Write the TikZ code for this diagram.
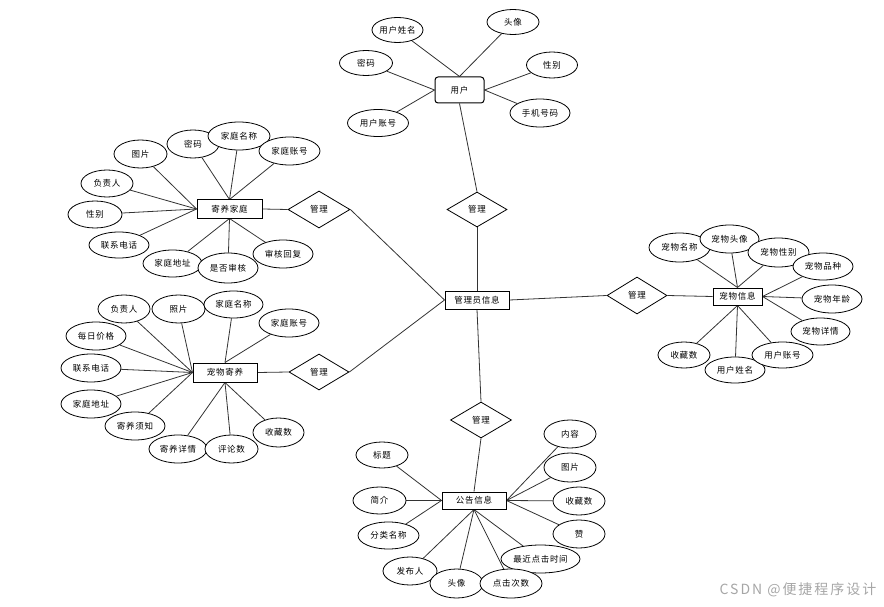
\documentclass[tikz,border=0pt]{standalone}
\usepackage{fontspec}
\newfontfamily\cjk[LetterSpace=8]{Noto Sans CJK SC}
\newfontfamily\wmfont[LetterSpace=14]{Noto Sans CJK SC}
\usetikzlibrary{shapes.geometric,backgrounds}
\tikzset{
  lbl/.style={font=\cjk\fontsize{8.5}{10}\selectfont, text=black},
  attr/.style={lbl, ellipse, draw=black, line width=0.8pt, fill=white, inner sep=0pt},
  ent/.style={lbl, rectangle, draw=black, line width=1pt, fill=white, inner sep=0pt},
  rel/.style={lbl, diamond, draw=black, line width=0.8pt, fill=white, inner sep=0pt, aspect=1.7},
  conn/.style={draw=black!80, line width=0.8pt},
  sz/.style n args={2}{minimum width=#1pt, minimum height=#2pt}
}
\begin{document}
\begin{tikzpicture}[x=1pt,y=-1pt]
\useasboundingbox (0,0) rectangle (884,607);
% ---------- user ----------
\node[ent, rounded corners=3pt, sz={49}{26}] (user) at (459.5,90) {用户};
\node[attr, sz={51}{25}] (u1) at (397.5,30) {用户姓名};
\node[attr, sz={52}{25}] (u2) at (513,22) {头像};
\node[attr, sz={53}{25}] (u3) at (366,63) {密码};
\node[attr, sz={51}{26}] (u4) at (552,65) {性别};
\node[attr, sz={61}{27}] (u5) at (378,123) {用户账号};
\node[attr, sz={60}{28}] (u6) at (540,113) {手机号码};
\node[rel, sz={60}{35}] (r1) at (477,209.5) {管理};
\node[ent, sz={64}{18}] (admin) at (477,300) {管理员信息};
% ---------- pet info ----------
\node[rel, sz={60}{37}] (r2) at (637,295.5) {管理};
\node[ent, sz={49}{17}] (pet) at (737.5,296.5) {宠物信息};
\node[attr, sz={61}{29}] (p1) at (679.5,247.5) {宠物名称};
\node[attr, sz={59}{28}] (p2) at (729.5,239) {宠物头像};
\node[attr, sz={61}{29}] (p3) at (778.5,252.5) {宠物性别};
\node[attr, sz={60}{27}] (p4) at (823,266.5) {宠物品种};
\node[attr, sz={60}{28}] (p5) at (832,299) {宠物年龄};
\node[attr, sz={59}{27}] (p6) at (820.5,331.5) {宠物详情};
\node[attr, sz={52}{26}] (p9) at (684,355) {收藏数};
\node[attr, sz={60}{26}] (p8) at (735,370) {用户姓名};
\node[attr, sz={61}{26}] (p7) at (782.5,355) {用户账号};
% ---------- foster family ----------
\node[ent, sz={65}{18}] (fam) at (229.5,209) {寄养家庭};
\node[rel, sz={62}{37}] (r3) at (319,209.5) {管理};
\node[attr, sz={53}{28}] (f1) at (140.5,154) {图片};
\node[attr, sz={52}{28}] (f2) at (193,144) {密码};
\node[attr, sz={62}{28}] (f3) at (239,136) {家庭名称};
\node[attr, sz={61}{28}] (f4) at (289.5,151) {家庭账号};
\node[attr, sz={52}{27}] (f5) at (107,183.5) {负责人};
\node[attr, sz={54}{27}] (f6) at (95,214.5) {性别};
\node[attr, sz={60}{26}] (f7) at (119,245) {联系电话};
\node[attr, sz={59}{27}] (f8) at (172.5,263.5) {家庭地址};
\node[attr, sz={60}{30}] (f9) at (228,268) {是否审核};
\node[attr, sz={60}{28}] (f10) at (283,254) {审核回复};
% ---------- pet foster ----------
\node[ent, sz={64}{19}] (fost) at (225,372.5) {宠物寄养};
\node[rel, sz={60}{36}] (r4) at (319,372) {管理};
\node[attr, sz={52}{28}] (g1) at (124,309) {负责人};
\node[attr, sz={53}{28}] (g2) at (178.5,309) {照片};
\node[attr, sz={59}{27}] (g3) at (233.5,304.5) {家庭名称};
\node[attr, sz={60}{28}] (g4) at (289,323) {家庭账号};
\node[attr, sz={60}{28}] (g5) at (96,336) {每日价格};
\node[attr, sz={60}{28}] (g6) at (91,368) {联系电话};
\node[attr, sz={60}{28}] (g7) at (91,404) {家庭地址};
\node[attr, sz={60}{28}] (g8) at (135,426) {寄养须知};
\node[attr, sz={58}{28}] (g9) at (178,449) {寄养详情};
\node[attr, sz={53}{28}] (g10) at (231.5,449) {评论数};
\node[attr, sz={51}{29}] (g11) at (278.5,432.5) {收藏数};
% ---------- notice ----------
\node[rel, sz={61}{36}] (r5) at (481,420) {管理};
\node[ent, sz={64}{17}] (notice) at (474,500.5) {公告信息};
\node[attr, sz={52}{26}] (n1) at (382,455) {标题};
\node[attr, sz={53}{27}] (n2) at (379.5,500.5) {简介};
\node[attr, sz={61}{27}] (n3) at (388.5,535.5) {分类名称};
\node[attr, sz={54}{28}] (n4) at (410,571) {发布人};
\node[attr, sz={53}{29}] (n5) at (456.5,583.5) {头像};
\node[attr, sz={79}{28}] (n7) at (540.5,559) {最近点击时间};
\node[attr, sz={62}{29}] (n6) at (511,583.5) {点击次数};
\node[attr, sz={52}{28}] (n8) at (570,434) {内容};
\node[attr, sz={52}{29}] (n9) at (570,467.5) {图片};
\node[attr, sz={52}{28}] (n10) at (579,501) {收藏数};
\node[attr, sz={52}{28}] (n11) at (579,534) {赞};
% ---------- watermark ----------
\node[font=\wmfont\fontsize{14}{16}\selectfont, text=black!35, inner sep=0pt] (wm) at (798,590) {CSDN @便捷程序设计};
% ---------- connectors ----------
\begin{pgfonlayer}{background}
\draw[conn] (u1) -- (user.north);
\draw[conn] (u2) -- (user.north);
\draw[conn] (u3) -- (user.west);
\draw[conn] (u5) -- (user.west);
\draw[conn] (u4) -- (user.east);
\draw[conn] (u6) -- (user.east);
\draw[conn] (user.south) -- (r1.north);
\draw[conn] (r1.south) -- (admin.north);
\draw[conn] (admin.east) -- (r2.west);
\draw[conn] (r2.east) -- (pet.west);
\draw[conn] (p1) -- (pet.north);
\draw[conn] (p2) -- (pet.north);
\draw[conn] (p3) -- (pet.north);
\draw[conn] (p4) -- (pet.east);
\draw[conn] (p5) -- (pet.east);
\draw[conn] (p6) -- (pet.east);
\draw[conn] (p7) -- (pet.south);
\draw[conn] (p8) -- (pet.south);
\draw[conn] (p9) -- (pet.south);
\draw[conn] (fam.east) -- (r3.west);
\draw[conn] (r3.east) -- (admin.west);
\draw[conn] (f1) -- (fam.west);
\draw[conn] (f5) -- (fam.west);
\draw[conn] (f6) -- (fam.west);
\draw[conn] (f7) -- (fam.west);
\draw[conn] (f2) -- (fam.north);
\draw[conn] (f3) -- (fam.north);
\draw[conn] (f4) -- (fam.north);
\draw[conn] (f8) -- (fam.south);
\draw[conn] (f9) -- (fam.south);
\draw[conn] (f10) -- (fam.south);
\draw[conn] (fost.east) -- (r4.west);
\draw[conn] (r4.east) -- (admin.west);
\draw[conn] (g1) -- (fost.west);
\draw[conn] (g2) -- (fost.west);
\draw[conn] (g5) -- (fost.west);
\draw[conn] (g6) -- (fost.west);
\draw[conn] (g7) -- (fost.west);
\draw[conn] (g8) -- (fost.west);
\draw[conn] (g3) -- (fost.north);
\draw[conn] (g4) -- (fost.north);
\draw[conn] (g9) -- (fost.south);
\draw[conn] (g10) -- (fost.south);
\draw[conn] (g11) -- (fost.south);
\draw[conn] (admin.south) -- (r5.north);
\draw[conn] (r5.south) -- (notice.north);
\draw[conn] (n1) -- (notice.west);
\draw[conn] (n2) -- (notice.west);
\draw[conn] (n3) -- (notice.west);
\draw[conn] (n4) -- (notice.south);
\draw[conn] (n5) -- (notice.south);
\draw[conn] (n6) -- (notice.south);
\draw[conn] (n7) -- (notice.south);
\draw[conn] (n8) -- (notice.east);
\draw[conn] (n9) -- (notice.east);
\draw[conn] (n10) -- (notice.east);
\draw[conn] (n11) -- (notice.east);
\end{pgfonlayer}
\end{tikzpicture}
\end{document}
